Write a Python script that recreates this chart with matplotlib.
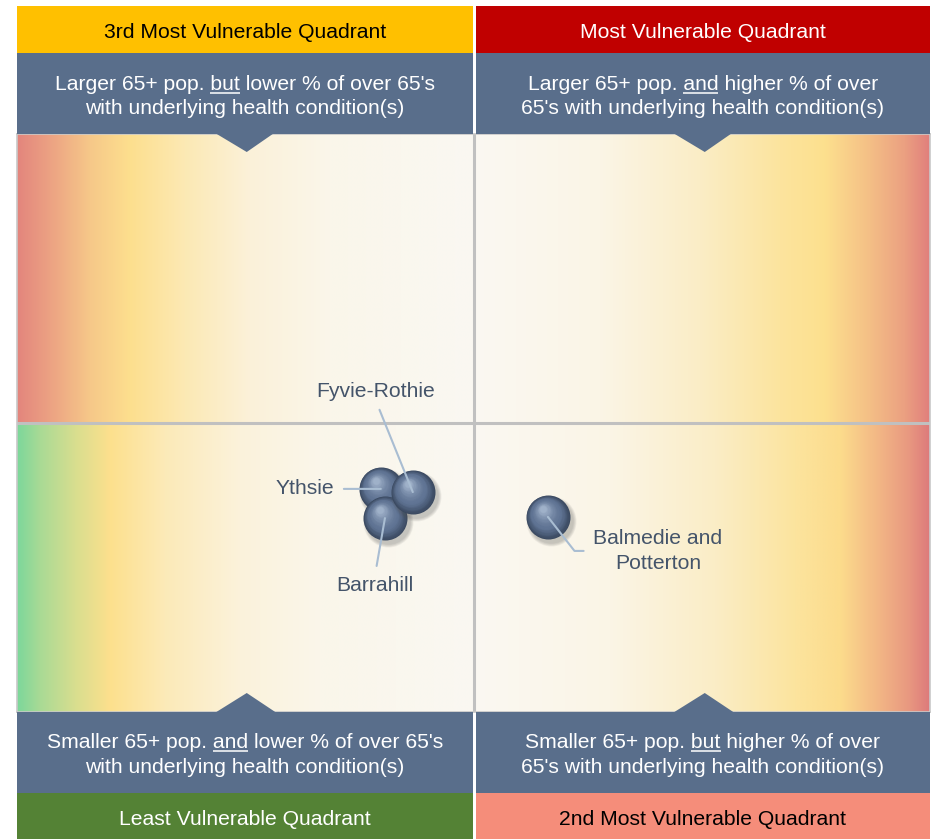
import numpy as np
import matplotlib.pyplot as plt
import matplotlib.transforms as mtransforms
from matplotlib.patches import Rectangle, Polygon
from matplotlib.colors import to_rgb

plt.rcParams["font.family"] = ["Liberation Sans", "DejaVu Sans"]

# ======================
# data
# ======================
# x: % of over 65's with underlying health condition(s), relative to average (0 = divider)
# y: size of 65+ population, relative to average (0 = divider)
areas = ["Ythsie", "Barrahill", "Fyvie-Rothie", "Balmedie and\nPotterton"]
pct_health_rel = [-0.203, -0.194, -0.133, 0.163]
pop65_rel = [-0.228, -0.329, -0.239, -0.325]

quadrant_titles = ["3rd Most Vulnerable Quadrant", "Most Vulnerable Quadrant",
                   "Least Vulnerable Quadrant", "2nd Most Vulnerable Quadrant"]
quadrant_desc = [
    (["Larger 65+ pop. but lower % of over 65's", "with underlying health condition(s)"], "but"),
    (["Larger 65+ pop. and higher % of over", "65's with underlying health condition(s)"], "and"),
    (["Smaller 65+ pop. and lower % of over 65's", "with underlying health condition(s)"], "and"),
    (["Smaller 65+ pop. but higher % of over", "65's with underlying health condition(s)"], "but"),
]

# ---------- styles ----------
W, H = 935, 839
FS = 15.2
BOX_BLUE = "#596E8B"
title_bg = ["#FFC000", "#C00000", "#548235", "#F58D7A"]
title_fg = ["black", "white", "white", "black"]
label_color = "#44546A"
leader_color = "#A9BDD2"

fig = plt.figure(figsize=(W / 100, H / 100), dpi=100)
fig.patch.set_facecolor("white")

# plot area in pixels: x 17..930, y 134..712
px0, px1, py0, py1 = 17, 930, 134, 712
ax = fig.add_axes([px0 / W, (H - py1) / H, (px1 - px0) / W, (py1 - py0) / H])
ax.set_xticks([])
ax.set_yticks([])
for s in ax.spines.values():
    s.set_color("#C8C8C8")
    s.set_linewidth(1.2)


# ---------- background gradients ----------
def gradient(stops, n=600):
    xs = np.array([p for p, _ in stops], dtype=float)
    cs = np.array([to_rgb(c) for _, c in stops])
    grid = np.linspace(xs[0], xs[-1], n)
    img = np.stack([np.interp(grid, xs, cs[:, k]) for k in range(3)], axis=-1)
    return img[None, :, :]


def px2x(p):
    return (p - 473.5) / 456.5


tl = [(17, "#E3857D"), (50, "#ECA283"), (90, "#F6C889"), (130, "#FDDF8E"),
      (185, "#FCE9B4"), (250, "#FBF1D9"), (330, "#FAF6EA"), (473, "#FAF8F2")]
bl = [(17, "#7CD79B"), (40, "#A9DA95"), (75, "#D8DE8F"), (110, "#FDE08D"),
      (165, "#FCEAB8"), (240, "#FBF2DB"), (320, "#FAF6EA"), (473, "#FAF8F2")]
tr = [(473, "#FAF8F2"), (600, "#FBF5E6"), (700, "#FAEDC6"), (780, "#FCE49E"),
      (825, "#FDE08E"), (870, "#F4BF86"), (905, "#EBA081"), (930, "#E17F7C")]
br = [(473, "#FAF8F2"), (610, "#FBF5E6"), (715, "#FAEDC6"), (795, "#FCE49E"),
      (840, "#FCDC8C"), (880, "#F2B585"), (910, "#E89780"), (930, "#DD7A7B")]

for stops, ylo, yhi in [(tl, 0, 1), (bl, -1, 0), (tr, 0, 1), (br, -1, 0)]:
    ax.imshow(gradient(stops), extent=[px2x(stops[0][0]), px2x(stops[-1][0]), ylo, yhi],
              aspect="auto", interpolation="bilinear", zorder=0)
ax.set_xlim(-1, 1)
ax.set_ylim(-1, 1)

ax.axvline(0, color="#C0C0C0", lw=2.2, zorder=1)
ax.axhline(0, color="#C0C0C0", lw=2.2, zorder=1)


# ---------- bubbles (shaded spheres) ----------
def sphere(x, y, z, s=1004):
    base = ax.transData
    # soft shadow lower right
    for k in range(6):
        tr_ = mtransforms.offset_copy(base, fig=fig, x=3, y=-4, units="dots")
        ax.scatter([x], [y], s=s * (1.0 + 0.06 * k), color="#555555", alpha=0.06,
                   linewidths=0, transform=tr_, zorder=z)
    edge = np.array(to_rgb("#3A4960"))
    mid = np.array(to_rgb("#5F7393"))
    hi = np.array(to_rgb("#9FB1C9"))
    n = 24
    for i in range(n):
        t = i / (n - 1)
        r = 1 - 0.85 * t
        if t < 0.35:
            c = edge + (mid - edge) * (t / 0.35)
        else:
            c = mid + (hi - mid) * ((t - 0.35) / 0.65) ** 1.6
        tr_ = mtransforms.offset_copy(base, fig=fig, x=-5 * t, y=8 * t, units="dots")
        ax.scatter([x], [y], s=s * r * r, color=c, linewidths=0, transform=tr_, zorder=z + 0.01 * i)


for i, (x, y) in enumerate(zip(pct_health_rel, pop65_rel)):
    sphere(x, y, 3 + i)

# ---------- labels with leader lines ----------
label_offsets = [(-76, 0), (-10, -67), (-37, 101), (110, -34)]
label_relpos = [(1, 0.5), (0.5, 1), (0.5, 0), (0, 0.5)]
label_conn = ["arc3", "arc3", "arc3", "angle,angleA=0,angleB=-52,rad=0"]
for name, x, y, off, rp, cs in zip(areas, pct_health_rel, pop65_rel,
                                   label_offsets, label_relpos, label_conn):
    ax.annotate(name, xy=(x, y), xytext=off, textcoords="offset pixels",
                ha="center", va="center", fontsize=FS, color=label_color,
                linespacing=1.38, zorder=20,
                arrowprops=dict(arrowstyle="-", color=leader_color, lw=1.5,
                                shrinkA=5, shrinkB=0, relpos=rp, connectionstyle=cs))

# ======================
# frame decorations (pixel overlay)
# ======================
ov = fig.add_axes([0, 0, 1, 1], zorder=5)
ov.set_xlim(0, W)
ov.set_ylim(H, 0)
ov.axis("off")
ov.patch.set_alpha(0)

cols = [(17, 472.5), (475.5, 930)]
renderer = fig.canvas.get_renderer()


def text_width(s, **kw):
    t = ov.text(0, 0, s, **kw)
    w = t.get_window_extent(renderer).width
    t.remove()
    return w


def desc_lines(xc, baselines, lines, word, color):
    kw = dict(fontsize=FS, color=color)
    for j, (line, yb) in enumerate(zip(lines, baselines)):
        t = ov.text(xc, yb, line, ha="center", va="baseline", **kw)
        if j == 0 and word in line.split():
            full = t.get_window_extent(renderer)
            pre = line[:line.index(" " + word + " ") + 1 + len(word)]
            x1 = full.x0 + text_width(pre, **kw)
            x0 = x1 - text_width(word, **kw)
            ov.plot([x0, x1], [yb + 2.5, yb + 2.5], color=color, lw=1.1, solid_capstyle="butt")


for q in range(4):
    row, col = divmod(q, 2)
    x0, x1 = cols[col]
    xc = (x0 + x1) / 2
    if row == 0:
        title_y, desc_y = (6, 53), (53, 134)
        tri = [(xc - 28, 134), (xc + 28, 134), (xc + 2, 152)]
        title_base, desc_base = 38, (90, 114)
    else:
        title_y, desc_y = (793, 839), (712, 793)
        tri = [(xc - 30, 713), (xc + 32, 713), (xc + 2, 693)]
        title_base, desc_base = 825, (748, 773)
    ov.add_patch(Rectangle((x0, title_y[0]), x1 - x0, title_y[1] - title_y[0],
                           facecolor=title_bg[q], edgecolor="none"))
    ov.add_patch(Rectangle((x0, desc_y[0]), x1 - x0, desc_y[1] - desc_y[0],
                           facecolor=BOX_BLUE, edgecolor="none"))
    ov.add_patch(Polygon(tri, closed=True, facecolor=BOX_BLUE, edgecolor="none"))
    ov.text(xc, title_base, quadrant_titles[q], ha="center", va="baseline",
            fontsize=FS, color=title_fg[q])
    lines, word = quadrant_desc[q]
    desc_lines(xc, desc_base, lines, word, "white")

fig.savefig("out.png", dpi=100)
